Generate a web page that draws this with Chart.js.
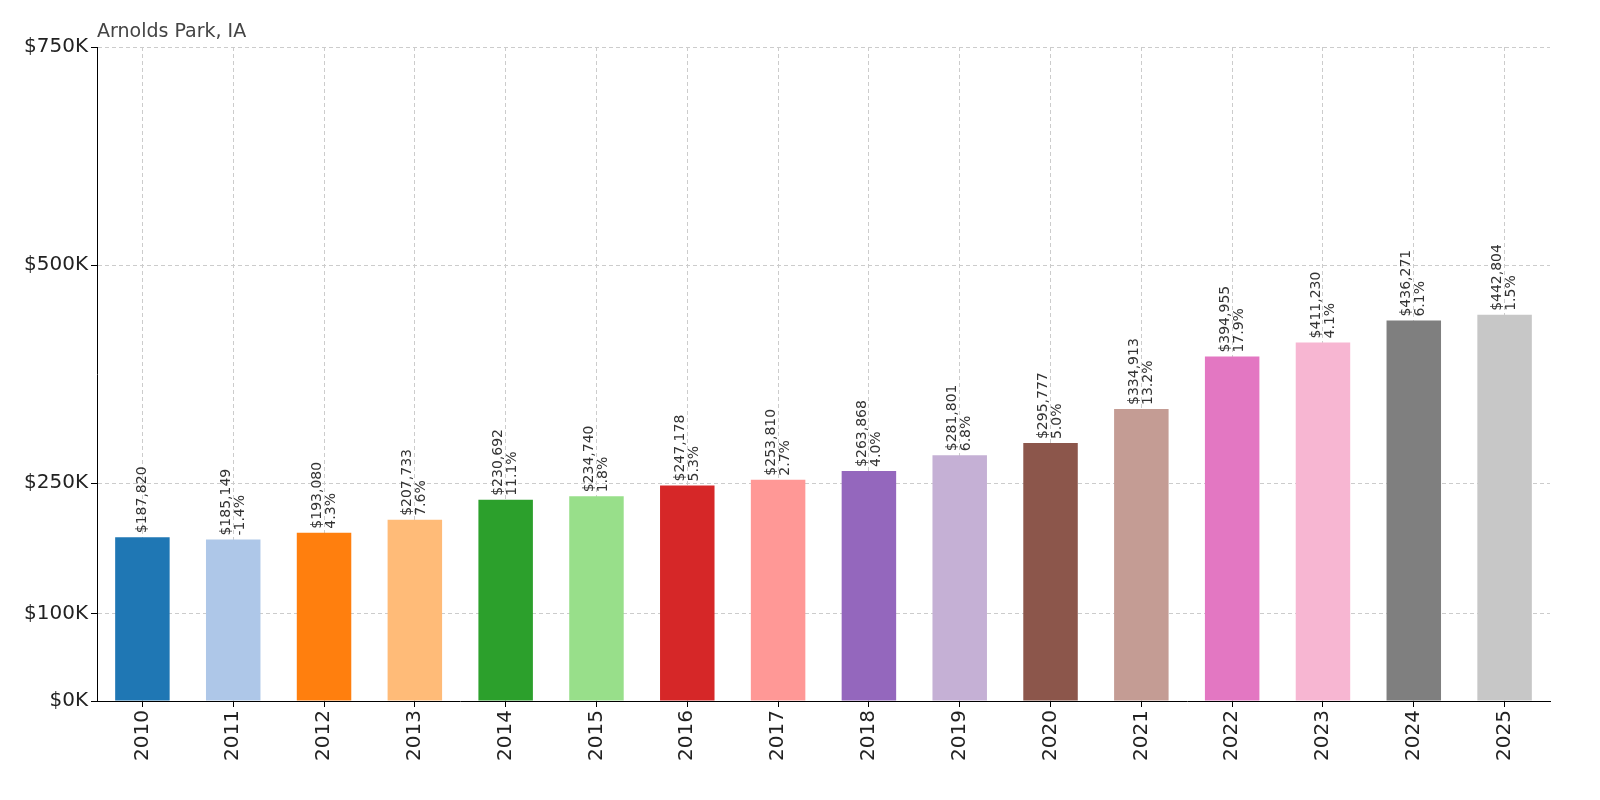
<!DOCTYPE html>
<html>
<head>
<meta charset="utf-8">
<script src="https://cdn.jsdelivr.net/npm/chart.js@4"></script>
<style>
  html, body { margin: 0; padding: 0; background: #fff; overflow: hidden; }
  #wrap { width: 1600px; height: 800px; }
</style>
</head>
<body>
<div id="wrap"><canvas id="c"></canvas></div>
<script>
// data
const years = ["2010","2011","2012","2013","2014","2015","2016","2017","2018","2019","2020","2021","2022","2023","2024","2025"];
const values = [187820,185149,193080,207733,230692,234740,247178,253810,263868,281801,295777,334913,394955,411230,436271,442804];
const changes = ["", "-1.4%","4.3%","7.6%","11.1%","1.8%","5.3%","2.7%","4.0%","6.8%","5.0%","13.2%","17.9%","4.1%","6.1%","1.5%"];
const yTicks = [0, 100000, 250000, 500000, 750000];
const colors = ["#1f77b4","#aec7e8","#ff7f0e","#ffbb78","#2ca02c","#98df8a","#d62728","#ff9896",
                "#9467bd","#c5b0d5","#8c564b","#c49c94","#e377c2","#f7b6d2","#7f7f7f","#c7c7c7"];

/* bar labels + title */
const labelPlugin = {
  id: "barLabels",
  afterDatasetsDraw(chart) {
    const ctx = chart.ctx;
    const meta = chart.getDatasetMeta(0);
    ctx.save();
    ctx.fillStyle = "#333";
    ctx.font = "14px 'DejaVu Sans'";
    ctx.textAlign = "left";
    ctx.textBaseline = "middle";
    meta.data.forEach((bar, i) => {
      ctx.save();
      ctx.translate(bar.x, bar.y - 4);
      ctx.rotate(-Math.PI / 2);
      const v = "$" + values[i].toLocaleString("en-US");
      if (changes[i]) {
        ctx.fillText(v, 0, -7);
        ctx.fillText(changes[i], 0, 7);
      } else {
        ctx.fillText(v, 0, 0);
      }
      ctx.restore();
    });
    ctx.fillStyle = "#444";
    ctx.font = "19px 'DejaVu Sans'";
    ctx.textBaseline = "alphabetic";
    ctx.fillText("Arnolds Park, IA", 97, 37);
    ctx.restore();
  }
};

new Chart(document.getElementById("c"), {
  type: "bar",
  data: {
    labels: years,
    datasets: [{ data: values, backgroundColor: colors, barPercentage: 0.6, categoryPercentage: 1 }]
  },
  options: {
    responsive: true,
    maintainAspectRatio: false,
    animation: false,
    layout: { padding: { top: 47, right: 50, left: 0, bottom: 0 } },
    plugins: { legend: { display: false }, tooltip: { enabled: false } },
    scales: {
      x: {
        grid: { offset: false, color: "#ccc", tickLength: 6, tickColor: "#000" },
        border: { color: "#000", dash: [4, 3], width: 1 },
        ticks: { color: "#222", font: { size: 20, family: "DejaVu Sans" }, maxRotation: 90, minRotation: 90 },
        afterFit(s) { s.height = 99; }
      },
      y: {
        min: 0, max: 750000,
        afterBuildTicks(s) { s.ticks = yTicks.map(v => ({ value: v })); },
        grid: { color: "#ccc", tickLength: 6, tickColor: "#000" },
        border: { color: "#000", dash: [4, 3] },
        ticks: {
          color: "#222", font: { size: 20, family: "DejaVu Sans" },
          callback: v => "$" + (v / 1000) + "K"
        },
        afterFit(s) { s.width = 97; }
      }
    }
  },
  plugins: [labelPlugin]
});
</script>
</body>
</html>
